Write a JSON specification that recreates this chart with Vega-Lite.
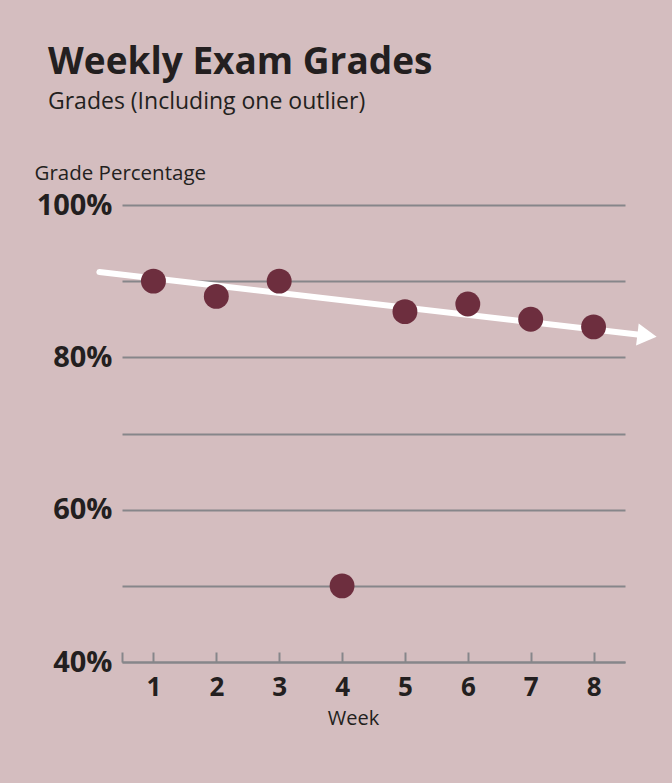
{
  "$schema": "https://vega.github.io/schema/vega-lite/v6.json",
  "width": 503,
  "height": 457,
  "autosize": {"type": "none"},
  "padding": {"left": 122, "top": 205, "right": 47, "bottom": 121},
  "background": "#d4bdbf",
  "config": {
    "view": {"stroke": null},
    "font": "Open Sans",
    "axis": {"labelFont": "Open Sans", "titleFont": "Open Sans"}
  },
  "title": {
    "text": "Weekly Exam Grades",
    "subtitle": "Grades (Including one outlier)",
    "anchor": "start",
    "frame": "group",
    "font": "Open Sans",
    "fontSize": 37,
    "fontWeight": "bold",
    "color": "#231f20",
    "subtitleFont": "Open Sans",
    "subtitleFontSize": 23,
    "subtitleColor": "#231f20",
    "subtitlePadding": 9,
    "dx": -74,
    "offset": 48
  },
  "datasets": {
    "grades": [
      {"week": 1, "grade": 90},
      {"week": 2, "grade": 88},
      {"week": 3, "grade": 90},
      {"week": 4, "grade": 50},
      {"week": 5, "grade": 86},
      {"week": 6, "grade": 87},
      {"week": 7, "grade": 85},
      {"week": 8, "grade": 84}
    ],
    "trend": [
      {"week": 0.14, "grade": 91.2},
      {"week": 8.8, "grade": 82.9}
    ],
    "head": [
      {"week": 8.85, "grade": 82.85}
    ]
  },
  "layer": [
    {
      "data": {"name": "trend"},
      "mark": {"type": "line", "color": "white", "strokeWidth": 6, "strokeCap": "round"},
      "encoding": {
        "x": {"field": "week", "type": "quantitative", "scale": {"domain": [0.5, 8.5], "nice": false, "zero": false},
          "axis": {
            "values": [0.5, 1, 2, 3, 4, 5, 6, 7, 8],
            "format": "d",
            "labelExpr": "datum.value < 0.9 ? '' : datum.label",
            "title": "Week",
            "titleFontSize": 20,
            "titleFontWeight": "normal",
            "titleColor": "#231f20",
            "titlePadding": 8,
            "titleX": 231,
            "titleAlign": "center",
            "labelFontSize": 26,
            "labelFontWeight": "bold",
            "labelColor": "#231f20",
            "labelPadding": 22,
            "tickSize": -10,
            "tickWidth": 2,
            "tickColor": "#86868a",
            "domainColor": "#86868a",
            "domainWidth": 2,
            "grid": false
          }
        },
        "y": {"field": "grade", "type": "quantitative", "scale": {"domain": [40, 100], "nice": false, "zero": false},
          "axis": {
            "values": [40, 50, 60, 70, 80, 90, 100],
            "labelExpr": "datum.value % 20 == 0 ? datum.value + '%' : ''",
            "title": "Grade Percentage",
            "titleAngle": 0,
            "titleAlign": "left",
            "titleBaseline": "alphabetic",
            "titleX": -88,
            "titleY": -26,
            "titleFontSize": 20.5,
            "titleFontWeight": "normal",
            "titleColor": "#231f20",
            "labelFontSize": 29,
            "labelFontWeight": "bold",
            "labelColor": "#231f20",
            "labelPadding": 10,
            "ticks": false,
            "tickSize": 0,
            "domain": false,
            "grid": true,
            "gridColor": "#86868a",
            "gridWidth": 2
          }
        }
      }
    },
    {
      "data": {"name": "head"},
      "mark": {"type": "point", "shape": "triangle-right", "filled": true, "color": "white", "opacity": 1, "size": 500, "angle": 6.7},
      "encoding": {
        "x": {"field": "week", "type": "quantitative"},
        "y": {"field": "grade", "type": "quantitative"}
      }
    },
    {
      "data": {"name": "grades"},
      "mark": {"type": "circle", "color": "#6d2e3e", "opacity": 1, "size": 620},
      "encoding": {
        "x": {"field": "week", "type": "quantitative"},
        "y": {"field": "grade", "type": "quantitative"}
      }
    }
  ]
}
